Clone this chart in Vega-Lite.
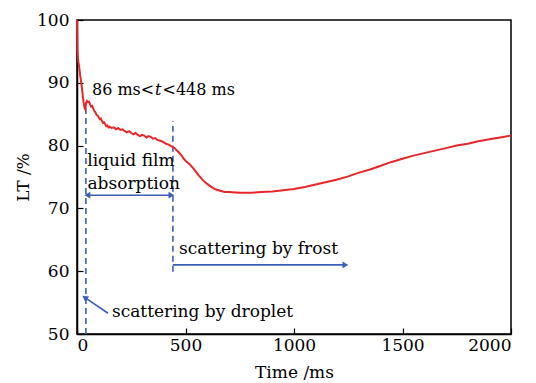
{
  "$schema": "https://vega.github.io/schema/vega-lite/v6.json",
  "width": 434,
  "height": 314,
  "autosize": {"type": "none"},
  "padding": {"left": 77, "top": 20, "right": 25, "bottom": 49},
  "background": "white",
  "config": {
    "view": {"stroke": "black", "strokeWidth": 1.5},
    "font": "DejaVu Serif",
    "axis": {
      "grid": false,
      "domainColor": "black",
      "domainWidth": 1.5,
      "tickColor": "black",
      "tickWidth": 1.2,
      "tickSize": -6,
      "labelFont": "DejaVu Serif",
      "labelFontSize": 17,
      "labelColor": "black",
      "titleFont": "DejaVu Serif",
      "titleFontSize": 17,
      "titleFontWeight": "normal",
      "titleColor": "black"
    }
  },
  "datasets": {
    "curve": [
      {"t": 0, "lt": 100}, {"t": 1, "lt": 97.5}, {"t": 2, "lt": 95.2}, {"t": 4, "lt": 94.1}, {"t": 6, "lt": 93.4},
      {"t": 10, "lt": 92.5}, {"t": 15, "lt": 91.1}, {"t": 20, "lt": 90.0}, {"t": 25, "lt": 88.4}, {"t": 30, "lt": 87.0},
      {"t": 35, "lt": 86.0}, {"t": 38, "lt": 85.8}, {"t": 42, "lt": 86.8}, {"t": 46, "lt": 87.1}, {"t": 50, "lt": 86.9},
      {"t": 55, "lt": 87.0}, {"t": 60, "lt": 86.6}, {"t": 65, "lt": 86.2}, {"t": 70, "lt": 86.3}, {"t": 75, "lt": 85.9},
      {"t": 80, "lt": 85.5}, {"t": 85, "lt": 85.3}, {"t": 90, "lt": 84.9}, {"t": 95, "lt": 84.8}, {"t": 100, "lt": 84.5},
      {"t": 105, "lt": 84.2}, {"t": 110, "lt": 84.3}, {"t": 115, "lt": 83.9}, {"t": 120, "lt": 83.6}, {"t": 125, "lt": 83.7},
      {"t": 130, "lt": 83.4}, {"t": 135, "lt": 83.1}, {"t": 140, "lt": 83.2}, {"t": 145, "lt": 82.9}, {"t": 150, "lt": 83.0},
      {"t": 160, "lt": 82.8}, {"t": 170, "lt": 82.9}, {"t": 180, "lt": 82.6}, {"t": 190, "lt": 82.8}, {"t": 200, "lt": 82.5},
      {"t": 210, "lt": 82.6}, {"t": 220, "lt": 82.3}, {"t": 230, "lt": 82.1}, {"t": 240, "lt": 82.3}, {"t": 250, "lt": 82.0},
      {"t": 260, "lt": 81.8}, {"t": 270, "lt": 82.0}, {"t": 280, "lt": 81.7}, {"t": 290, "lt": 81.5}, {"t": 300, "lt": 81.7},
      {"t": 310, "lt": 81.6}, {"t": 320, "lt": 81.3}, {"t": 330, "lt": 81.5}, {"t": 340, "lt": 81.4}, {"t": 350, "lt": 81.1},
      {"t": 360, "lt": 81.2}, {"t": 370, "lt": 80.9}, {"t": 380, "lt": 80.8}, {"t": 390, "lt": 80.7}, {"t": 400, "lt": 80.5},
      {"t": 410, "lt": 80.3}, {"t": 420, "lt": 80.2}, {"t": 430, "lt": 80.0}, {"t": 440, "lt": 79.8}, {"t": 450, "lt": 79.6},
      {"t": 460, "lt": 79.2}, {"t": 470, "lt": 78.9}, {"t": 480, "lt": 78.5}, {"t": 490, "lt": 78.0}, {"t": 500, "lt": 77.6},
      {"t": 520, "lt": 77.0}, {"t": 540, "lt": 76.2}, {"t": 560, "lt": 75.3}, {"t": 580, "lt": 74.5}, {"t": 600, "lt": 73.9},
      {"t": 620, "lt": 73.4}, {"t": 640, "lt": 73.0}, {"t": 660, "lt": 72.8}, {"t": 680, "lt": 72.6}, {"t": 700, "lt": 72.6},
      {"t": 750, "lt": 72.5}, {"t": 800, "lt": 72.5}, {"t": 850, "lt": 72.6}, {"t": 900, "lt": 72.7}, {"t": 950, "lt": 72.9},
      {"t": 1000, "lt": 73.1}, {"t": 1050, "lt": 73.4}, {"t": 1100, "lt": 73.8}, {"t": 1150, "lt": 74.2}, {"t": 1200, "lt": 74.6},
      {"t": 1250, "lt": 75.1}, {"t": 1300, "lt": 75.7}, {"t": 1350, "lt": 76.2}, {"t": 1400, "lt": 76.8}, {"t": 1450, "lt": 77.4},
      {"t": 1500, "lt": 77.9}, {"t": 1550, "lt": 78.4}, {"t": 1600, "lt": 78.8}, {"t": 1650, "lt": 79.2}, {"t": 1700, "lt": 79.6},
      {"t": 1750, "lt": 80.0}, {"t": 1800, "lt": 80.3}, {"t": 1850, "lt": 80.7}, {"t": 1900, "lt": 81.0}, {"t": 1950, "lt": 81.3},
      {"t": 2000, "lt": 81.6}
    ],
    "vlines": [
      {"t": 41, "lt": 50, "lt2": 86.6},
      {"t": 442, "lt": 59.9, "lt2": 83.9}
    ],
    "arrows": [
      {"t": 41, "lt": 72.1, "t2": 442, "lt2": 72.1},
      {"t": 442, "lt": 61.0, "t2": 1240, "lt2": 61.0},
      {"t": 143, "lt": 53.3, "t2": 32, "lt2": 55.9}
    ],
    "headsLeft": [{"t": 48, "lt": 72.1}],
    "headsRight": [{"t": 435, "lt": 72.1}, {"t": 1237, "lt": 61.0}],
    "headsDiag": [{"t": 36, "lt": 55.8}],
    "textsLeft": [
      {"t": 47, "lt": 77.6, "label": "liquid film"},
      {"t": 48, "lt": 73.9, "label": "absorption"},
      {"t": 470, "lt": 63.5, "label": "scattering by frost"},
      {"t": 161, "lt": 53.5, "label": "scattering by droplet"}
    ],
    "rangeText": [
      {"t": 69, "lt": 88.9, "label": "86 ms<"},
      {"t": 394, "lt": 88.9, "label": "<448 ms"}
    ],
    "italic": [{"t": 374, "lt": 88.9, "label": "t"}]
  },
  "layer": [
    {
      "data": {"name": "vlines"},
      "mark": {"type": "rule", "color": "#3b5fb8", "strokeWidth": 1.6, "strokeDash": [6, 4]},
      "encoding": {
        "x": {"field": "t", "type": "quantitative"},
        "y": {"field": "lt", "type": "quantitative"},
        "y2": {"field": "lt2"}
      }
    },
    {
      "data": {"name": "arrows"},
      "mark": {"type": "rule", "color": "#3b5fb8", "strokeWidth": 1.6},
      "encoding": {
        "x": {"field": "t", "type": "quantitative"},
        "y": {"field": "lt", "type": "quantitative"},
        "x2": {"field": "t2"},
        "y2": {"field": "lt2"}
      }
    },
    {
      "data": {"name": "headsLeft"},
      "mark": {"type": "point", "shape": "triangle-left", "filled": true, "color": "#3b5fb8", "size": 45, "opacity": 1},
      "encoding": {
        "x": {"field": "t", "type": "quantitative"},
        "y": {"field": "lt", "type": "quantitative"}
      }
    },
    {
      "data": {"name": "headsRight"},
      "mark": {"type": "point", "shape": "triangle-right", "filled": true, "color": "#3b5fb8", "size": 45, "opacity": 1},
      "encoding": {
        "x": {"field": "t", "type": "quantitative"},
        "y": {"field": "lt", "type": "quantitative"}
      }
    },
    {
      "data": {"name": "headsDiag"},
      "mark": {"type": "point", "shape": "triangle-up", "angle": 306, "filled": true, "color": "#3b5fb8", "size": 45, "opacity": 1},
      "encoding": {
        "x": {"field": "t", "type": "quantitative"},
        "y": {"field": "lt", "type": "quantitative"}
      }
    },
    {
      "data": {"name": "curve"},
      "mark": {"type": "line", "color": "#e8262a", "strokeWidth": 2, "interpolate": "linear"},
      "encoding": {
        "x": {"field": "t", "type": "quantitative", "scale": {"domain": [0, 2000], "nice": false},
          "axis": {"values": [0, 500, 1000, 1500, 2000], "format": "d", "title": "Time /ms", "labelPadding": 9, "titlePadding": 11}},
        "y": {"field": "lt", "type": "quantitative", "scale": {"domain": [50, 100], "nice": false, "zero": false},
          "axis": {"values": [50, 60, 70, 80, 90, 100], "title": "LT /%", "labelPadding": 14, "titlePadding": 4}}
      }
    },
    {
      "data": {"name": "textsLeft"},
      "mark": {"type": "text", "baseline": "middle", "align": "left", "fontSize": 17, "color": "black", "font": "DejaVu Serif"},
      "encoding": {
        "x": {"field": "t", "type": "quantitative"},
        "y": {"field": "lt", "type": "quantitative"},
        "text": {"field": "label"}
      }
    },
    {
      "data": {"name": "rangeText"},
      "mark": {"type": "text", "baseline": "middle", "align": "left", "fontSize": 16, "color": "black", "font": "DejaVu Serif"},
      "encoding": {
        "x": {"field": "t", "type": "quantitative"},
        "y": {"field": "lt", "type": "quantitative"},
        "text": {"field": "label"}
      }
    },
    {
      "data": {"name": "italic"},
      "mark": {"type": "text", "baseline": "middle", "align": "center", "fontSize": 16, "fontStyle": "italic", "color": "black", "font": "DejaVu Serif"},
      "encoding": {
        "x": {"field": "t", "type": "quantitative"},
        "y": {"field": "lt", "type": "quantitative"},
        "text": {"field": "label"}
      }
    }
  ]
}
